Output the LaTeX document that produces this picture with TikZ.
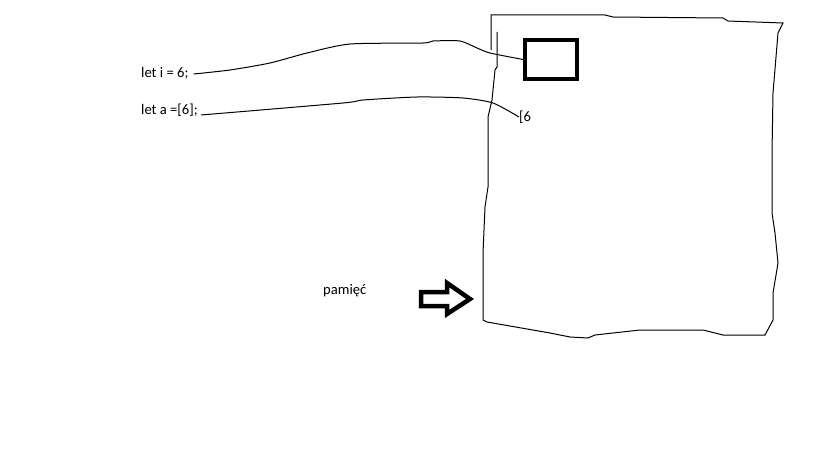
\documentclass[tikz,border=0pt]{standalone}
\usepackage{fontspec}
\setmainfont{Carlito}
\begin{document}
\begin{tikzpicture}[x=1pt,y=-1pt,
  lbl/.style={anchor=west,inner sep=0pt,font=\fontsize{14.6}{17}\selectfont},
  thin line/.style={line width=1pt},
  cellbox/.style={draw,line width=4pt,minimum width=52pt,minimum height=39pt,inner sep=0pt},
  bigarrow/.style={draw,line width=4.5pt,miter limit=10}]
\useasboundingbox[fill=white] (0,0) rectangle (819,460);
% texts
\node[lbl] (ti) at (141,73) {let i = 6;};
\node[lbl] (ta) at (141,110) {let a =[6];};
\node[lbl] (six) at (519,117) {[6};
\node[lbl] (mem) at (323,291) {pamięć};
% memory outline
\draw[thin line] (491,50) -- (491,15) -- (605,15) -- (613,17) -- (723,18) -- (728,21) -- (783,23)
  -- (778,33) -- (773,93) -- (772,153) -- (772,213) -- (775,233) -- (778,263) -- (773,293)
  -- (773,320) -- (765,335) -- (723,335) -- (703,330) -- (640,330) -- (595,335) -- (588,338)
  -- (570,337) -- (550,333) -- (487,322) -- (483,320) -- (483,253) -- (485,207) -- (488,187)
  -- (488,117) -- (492,100) -- (495,70) -- (497,67) -- (497,32);
% cell
\node[cellbox] (cell) at (551,59.5) {};
% connectors
\draw[thin line] plot[smooth,tension=0.4] coordinates {([xshift=5pt,yshift=-1pt]ti.east) (230,70) (270,63) (307,53) (350,44) (423,43) (433,41) (460,41) (477,48) (490,53) (cell.west)};
\draw[thin line] plot[smooth,tension=0.4] coordinates {([xshift=3pt,yshift=-5pt]ta.east) (343,103) (363,100) (417,97) (463,98) (493,103) (six.west)};
% arrow
\draw[bigarrow] (421,292) -- (447,292) -- (447,283) -- (470,299) -- (447,314) -- (447,306) -- (421,306) -- cycle;
\end{tikzpicture}
\end{document}
